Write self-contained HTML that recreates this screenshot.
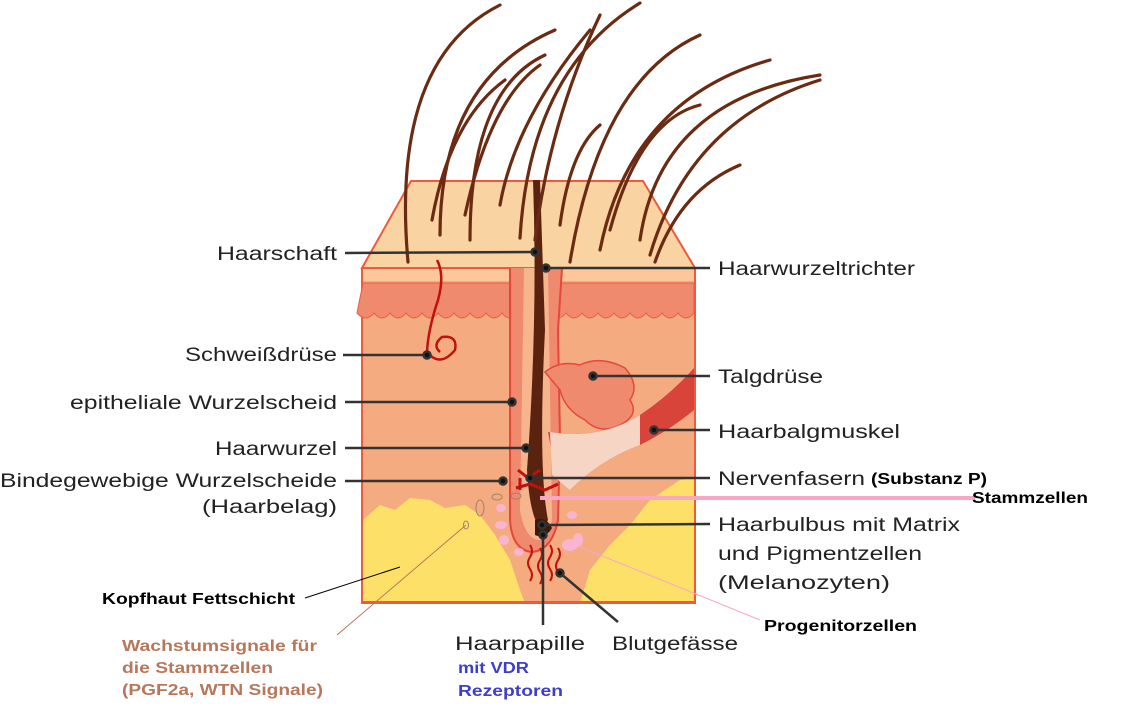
<!DOCTYPE html>
<html><head><meta charset="utf-8"><style>
html,body{margin:0;padding:0;background:#fff;}
svg{display:block;}
.l{font-family:"Liberation Sans",sans-serif;font-size:19px;fill:#222;}
.b{font-family:"Liberation Sans",sans-serif;font-size:16px;font-weight:bold;}
</style></head><body>
<svg width="1126" height="725" viewBox="0 0 1126 725" xmlns="http://www.w3.org/2000/svg">
<polygon points="411,181 643,181 695,268 362,268" fill="#fad3a2" stroke="#ee5a3a" stroke-width="2"/>
<rect x="362" y="268" width="333" height="335" fill="#f4ab80" stroke="#ee5a3a" stroke-width="2"/>
<rect x="363" y="269" width="331" height="12" fill="#fbc79b"/>
<path d="M363,283 H694 V313 q-8,10 -16,0 q-8,10 -16,0 q-8,10 -16,0 q-8,10 -16,0 q-8,10 -16,0 q-8,10 -16,0 q-8,10 -16,0 q-8,10 -16,0 q-8,10 -16,0 q-8,10 -16,0 q-8,10 -16,0 q-8,10 -16,0 q-8,10 -16,0 q-8,10 -16,0 q-8,10 -16,0 q-8,10 -16,0 q-8,10 -16,0 q-8,10 -16,0 q-8,10 -16,0 q-8,10 -16,0 q-8,10 -17,0 Z" fill="#ef8a6e" stroke="#ee5a3a" stroke-width="1"/>
<path d="M363,520 L380,505 L395,510 L410,498 L430,500 L445,508 L465,505 L480,515 L495,535 L510,560 L520,590 L525,603 L363,603 Z" fill="#fde067"/>
<path d="M580,603 L590,570 L610,545 L630,525 L650,500 L665,490 L680,480 L694,478 L694,603 Z" fill="#fde067"/>
<path d="M363,602 H694" stroke="#ee5a3a" stroke-width="2"/>
<path d="M510,268 L510,520 Q512,550 532,552 Q552,550 558,520 L560,440 L558,330 L562,268" fill="#ef8a6e" stroke="#e5483a" stroke-width="2"/>
<path d="M524,268 L520,510 Q525,540 540,540 Q552,538 552,515 L548,268 Z" fill="#fbc79b" opacity="0.7"/>
<path d="M545,372 Q560,360 580,365 Q600,355 625,368 Q640,385 630,400 Q640,415 620,425 Q600,435 585,420 Q565,410 560,390 Z" fill="#ef8a6e" stroke="#e5483a" stroke-width="1.5"/>
<path d="M548,432 Q600,440 640,415 Q670,395 694,368 L694,410 Q670,430 640,445 Q600,460 570,490 L555,470 Z" fill="#d8433a"/>
<path d="M550,432 Q600,440 640,415 L640,445 Q600,460 570,490 L552,475 Z" fill="#f7d5c5"/>
<path d="M533,180 Q538,320 527,470 Q530,520 542,530 L548,520 Q538,470 545,330 L540,180 Z" fill="#5a2310"/>
<path d="M535,520 Q545,515 552,528 Q545,540 535,535 Z" fill="#3a1a0a"/>
<path d="M518,470 L528,478 L540,470 M516,488 L530,484 L545,490 L558,484 M520,478 L520,490" stroke="#c01010" stroke-width="3" fill="none"/>
<g stroke="#c01010" stroke-width="2" fill="none">
<path d="M530,545 q4,6 0,12 q-4,6 0,12 q4,6 0,12"/>
<path d="M540,548 q4,6 0,12 q-4,6 0,12 q4,6 0,12"/>
<path d="M550,545 q4,6 0,12 q-4,6 0,12 q4,6 0,12"/>
<path d="M558,548 q4,6 0,12 q-4,6 0,12"/>
</g>
<g fill="#f9b4d0"><ellipse cx="501" cy="508" rx="5" ry="4"/><ellipse cx="501" cy="525" rx="6" ry="4"/><circle cx="504" cy="540" r="5"/><ellipse cx="519" cy="552" rx="5" ry="4"/><ellipse cx="572" cy="515" rx="5" ry="4"/><ellipse cx="570" cy="545" rx="8" ry="6"/><ellipse cx="578" cy="540" rx="5" ry="7"/></g>
<g fill="none" stroke="#a08070" stroke-width="1"><ellipse cx="480" cy="508" rx="4" ry="8"/><ellipse cx="497" cy="497" rx="5" ry="3"/><ellipse cx="516" cy="496" rx="5" ry="3"/><ellipse cx="466" cy="525" rx="2.5" ry="4"/></g>
<path d="M437,260 Q445,275 438,300 Q428,330 427,352 Q440,368 455,350 Q458,335 442,337 Q432,345 440,352" fill="none" stroke="#c01010" stroke-width="2.5"/>
<g stroke="#6b2a12" stroke-width="3.2" fill="none" stroke-linecap="round">
<path d="M408,262 Q390,60 500,5"/>
<path d="M440,235 Q440,80 555,30"/>
<path d="M470,240 Q470,90 545,55"/>
<path d="M465,215 Q490,100 540,65"/>
<path d="M432,220 Q450,120 505,80"/>
<path d="M520,238 Q530,70 640,3"/>
<path d="M500,205 Q515,120 590,30"/>
<path d="M570,262 Q600,80 700,35"/>
<path d="M560,225 Q570,150 600,125"/>
<path d="M600,250 Q630,100 770,60"/>
<path d="M610,230 Q640,120 700,105"/>
<path d="M640,240 Q660,100 820,75"/>
<path d="M650,255 Q690,120 820,80"/>
<path d="M655,262 Q680,190 740,165"/>
<path d="M535,240 Q550,120 600,15"/>
</g>
<g stroke="#333" stroke-width="2.5" fill="#111">
<line x1="345" y1="253" x2="535" y2="252"/><circle cx="535" cy="252" r="3.5"/>
<line x1="546" y1="268" x2="710" y2="268"/><circle cx="546" cy="268" r="3.5"/>
<line x1="343" y1="355" x2="427" y2="355"/><circle cx="427" cy="355" r="3.5"/>
<line x1="345" y1="402" x2="512" y2="402"/><circle cx="512" cy="402" r="3.5"/>
<line x1="345" y1="448" x2="526" y2="448"/><circle cx="526" cy="448" r="3.5"/>
<line x1="345" y1="481" x2="503" y2="481"/><circle cx="503" cy="481" r="3.5"/>
<line x1="593" y1="376" x2="710" y2="376"/><circle cx="593" cy="376" r="3.5"/>
<line x1="654" y1="430" x2="710" y2="430"/><circle cx="654" cy="430" r="3.5"/>
<line x1="530" y1="478" x2="710" y2="478"/><circle cx="530" cy="478" r="3.5"/>
<line x1="542" y1="525" x2="710" y2="524"/><circle cx="542" cy="525" r="3.5"/>
<line x1="543" y1="535" x2="543" y2="625"/><circle cx="543" cy="535" r="3.5"/>
<line x1="560" y1="573" x2="618" y2="622"/><circle cx="560" cy="573" r="3.5"/>
</g>
<line x1="540" y1="498" x2="975" y2="498" stroke="#f9a8c4" stroke-width="4"/>
<line x1="580" y1="547" x2="760" y2="620" stroke="#f9a8c4" stroke-width="1"/>
<line x1="305" y1="598" x2="400" y2="567" stroke="#000" stroke-width="1"/>
<line x1="466" y1="525" x2="337" y2="635" stroke="#b8775a" stroke-width="1"/>
<g class="l">
<text x="217" y="260" textLength="120" lengthAdjust="spacingAndGlyphs">Haarschaft</text>
<text x="185" y="361" textLength="152" lengthAdjust="spacingAndGlyphs">Schweißdrüse</text>
<text x="70" y="409" textLength="267" lengthAdjust="spacingAndGlyphs">epitheliale Wurzelscheid</text>
<text x="215" y="455" textLength="122" lengthAdjust="spacingAndGlyphs">Haarwurzel</text>
<text x="0" y="487" textLength="337" lengthAdjust="spacingAndGlyphs">Bindegewebige Wurzelscheide</text>
<text x="202" y="513" textLength="135" lengthAdjust="spacingAndGlyphs">(Haarbelag)</text>
<text x="718" y="275" textLength="197" lengthAdjust="spacingAndGlyphs">Haarwurzeltrichter</text>
<text x="718" y="383" textLength="105" lengthAdjust="spacingAndGlyphs">Talgdrüse</text>
<text x="718" y="438" textLength="182" lengthAdjust="spacingAndGlyphs">Haarbalgmuskel</text>
<text x="718" y="485" textLength="147" lengthAdjust="spacingAndGlyphs">Nervenfasern</text>
<text x="718" y="531" textLength="242" lengthAdjust="spacingAndGlyphs">Haarbulbus mit Matrix</text>
<text x="718" y="560" textLength="204" lengthAdjust="spacingAndGlyphs">und Pigmentzellen</text>
<text x="718" y="589" textLength="172" lengthAdjust="spacingAndGlyphs">(Melanozyten)</text>
<text x="455" y="650" textLength="130" lengthAdjust="spacingAndGlyphs">Haarpapille</text>
<text x="612" y="650" textLength="126" lengthAdjust="spacingAndGlyphs">Blutgefässe</text>
</g>
<g class="b" fill="#000">
<text x="871" y="484" textLength="116" lengthAdjust="spacingAndGlyphs">(Substanz P)</text>
<text x="972" y="503" textLength="116" lengthAdjust="spacingAndGlyphs">Stammzellen</text>
<text x="764" y="631" textLength="153" lengthAdjust="spacingAndGlyphs">Progenitorzellen</text>
<text x="102" y="604" textLength="193" lengthAdjust="spacingAndGlyphs">Kopfhaut Fettschicht</text>
</g>
<g class="b" fill="#b8775a">
<text x="122" y="651" textLength="195" lengthAdjust="spacingAndGlyphs">Wachstumsignale für</text>
<text x="122" y="673" textLength="151" lengthAdjust="spacingAndGlyphs">die Stammzellen</text>
<text x="122" y="695" textLength="201" lengthAdjust="spacingAndGlyphs">(PGF2a, WTN Signale)</text>
</g>
<g class="b" fill="#3d3fcc">
<text x="458" y="673" textLength="71" lengthAdjust="spacingAndGlyphs">mit VDR</text>
<text x="458" y="696" textLength="105" lengthAdjust="spacingAndGlyphs">Rezeptoren</text>
</g>
</svg>
</body></html>
